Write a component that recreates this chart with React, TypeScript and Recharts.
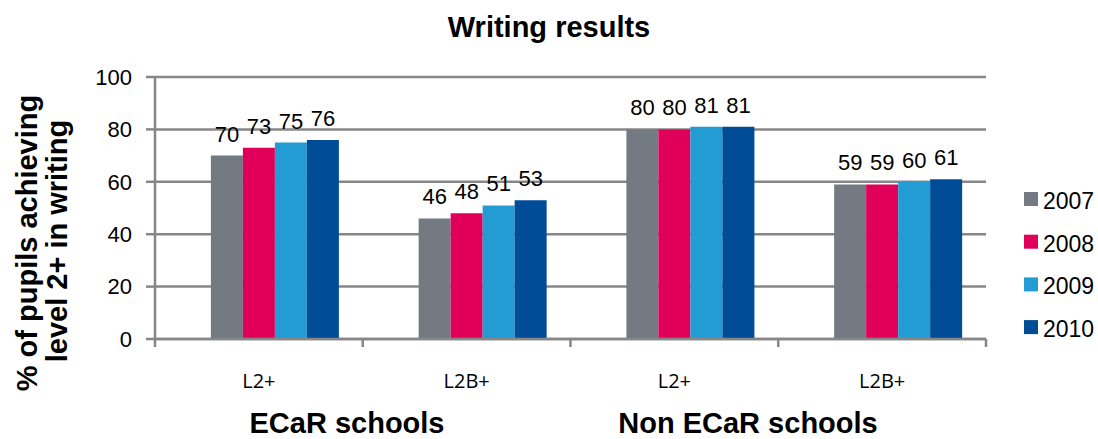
import React from 'react';
import { BarChart, Bar, XAxis, YAxis, CartesianGrid, LabelList } from 'recharts';

const categories = ['L2+', 'L2B+', 'L2+', 'L2B+'];
const years = ['2007', '2008', '2009', '2010'];
const values2007 = [70, 46, 80, 59];
const values2008 = [73, 48, 80, 59];
const values2009 = [75, 51, 81, 60];
const values2010 = [76, 53, 81, 61];
const yTicks = [0, 20, 40, 60, 80, 100];
const groupLabels = ['ECaR schools', 'Non ECaR schools'];
const yLabelLines = ['% of pupils achieving', 'level 2+ in writing'];

const colors = ['#737a81', '#e0005a', '#239cd3', '#004c97'];

// the original has an empty first series, which pushes the bars right of the label
const data = categories.map((cat, i) => ({
    cat,
    blank: null,
    y2007: values2007[i],
    y2008: values2008[i],
    y2009: values2009[i],
    y2010: values2010[i],
}));

const FONT = '"Liberation Sans", Arial, sans-serif';
const GRID = '#878787';
const W = 1098;
const H = 439;
const PLOT_BOTTOM = 339;
const PLOT_W = 831;

const CategoryTick = (props: any) => {
    const { x, payload, index } = props;
    const half = payload && payload.offset ? payload.offset : PLOT_W / 8;
    return (
        <g>
            <line x1={x - half} x2={x - half} y1={PLOT_BOTTOM} y2={PLOT_BOTTOM + 8} stroke={GRID} strokeWidth={2.5} />
            {index === categories.length - 1 && (
                <line x1={x + half} x2={x + half} y1={PLOT_BOTTOM} y2={PLOT_BOTTOM + 8} stroke={GRID} strokeWidth={2.5} />
            )}
            <text x={x} y={388} textAnchor="middle" fontSize={20} fontFamily='"Open Sans", sans-serif' fill="#000">
                {payload.value}
            </text>
        </g>
    );
};

const App: React.FC = () => {
    return (
        <div style={{ position: 'absolute', left: 0, top: 0, width: W, height: H, background: '#fff', fontFamily: FONT }}>
            <BarChart
                width={W}
                height={H}
                data={data}
                margin={{ top: 77, right: 112, bottom: 0, left: 0 }}
                barCategoryGap="11.5%"
                barGap={0}
            >
                <CartesianGrid vertical={false} stroke={GRID} strokeWidth={2.5} />
                <XAxis
                    dataKey="cat"
                    height={100}
                    axisLine={{ stroke: GRID, strokeWidth: 2.5 }}
                    tickLine={false}
                    tick={<CategoryTick />}
                    interval={0}
                />
                <YAxis
                    width={155}
                    domain={[0, 100]}
                    ticks={yTicks}
                    axisLine={{ stroke: GRID, strokeWidth: 2.5 }}
                    tickLine={{ stroke: GRID, strokeWidth: 2.5 }}
                    tickSize={9}
                    tickMargin={14}
                    tick={{ fill: '#000', fontSize: 22, fontFamily: FONT }}
                />
                <Bar dataKey="blank" fill="none" legendType="none" isAnimationActive={false} />
                {years.map((yr, i) => (
                    <Bar key={yr} dataKey={`y${yr}`} name={yr} fill={colors[i]} isAnimationActive={false}>
                        <LabelList dataKey={`y${yr}`} position="top" offset={14} fill="#000" fontSize={22} fontFamily={FONT} />
                    </Bar>
                ))}
            </BarChart>

            <svg width={W} height={H} style={{ position: 'absolute', left: 0, top: 0, pointerEvents: 'none' }}>
                <text x={549} y={37} textAnchor="middle" fontSize={29} fontWeight="bold" fontFamily={FONT}>Writing results</text>
                <text transform="translate(37,243) rotate(-90)" textAnchor="middle" fontSize={29} fontWeight="bold" fontFamily={FONT}>
                    {yLabelLines[0]}
                </text>
                <text transform="translate(67,241) rotate(-90)" textAnchor="middle" fontSize={29} fontWeight="bold" fontFamily={FONT}>
                    {yLabelLines[1]}
                </text>
                <text x={347} y={433} textAnchor="middle" fontSize={29} fontWeight="bold" fontFamily={FONT}>{groupLabels[0]}</text>
                <text x={748} y={433} textAnchor="middle" fontSize={29} fontWeight="bold" fontFamily={FONT}>{groupLabels[1]}</text>
                {years.map((yr, i) => (
                    <g key={yr} transform={`translate(1024, ${199 + i * 42.7})`}>
                        <rect x={0} y={-7} width={14} height={14} fill={colors[i]} />
                        <text x={19} y={10} fontSize={23} fontFamily={FONT}>{yr}</text>
                    </g>
                ))}
            </svg>
        </div>
    );
};

export default App;
